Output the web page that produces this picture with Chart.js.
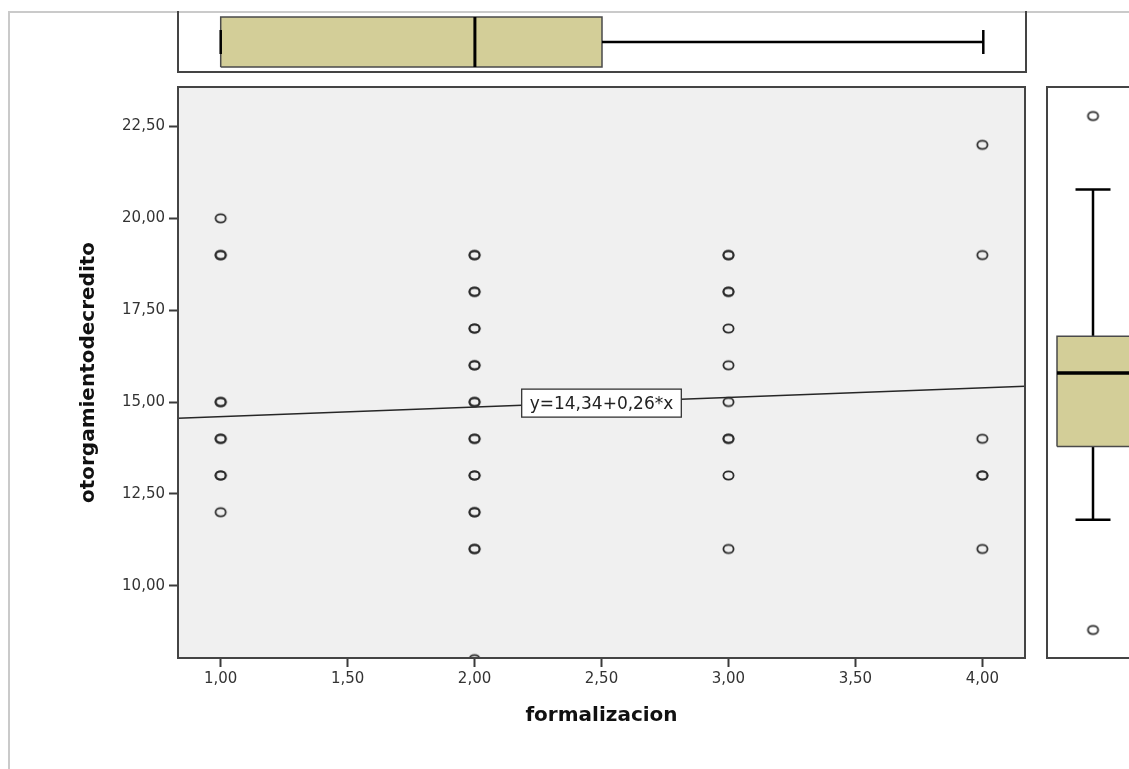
<!DOCTYPE html>
<html>
<head>
<meta charset="utf-8">
<script src="https://cdn.jsdelivr.net/npm/chart.js@4.4.1/dist/chart.umd.min.js"></script>
<style>
  html, body { margin: 0; padding: 0; background: #fff; }
  body { width: 1129px; height: 769px; position: relative; overflow: hidden; }
  #frame { position: absolute; left: 8px; top: 11px; right: -5px; bottom: -5px;
           border-left: 2px solid #cacaca; border-top: 2px solid #cacaca; }
  canvas { position: absolute; }
</style>
</head>
<body>
<div id="frame"></div>
<canvas id="main" width="1129" height="769" style="left:0;top:0"></canvas>
<canvas id="topBox" width="1129" height="80" style="left:0;top:0"></canvas>
<canvas id="sideBox" width="1129" height="589" style="left:0;top:80px"></canvas>
<script>
// formalizacion levels and the otorgamientodecredito values seen at each level
const levels  = [1, 2, 3, 4];
const credit1 = [20, 19, 19, 15, 15, 14, 14, 13, 13, 12];
const credit2 = [19, 19, 18, 18, 17, 17, 16, 16, 15, 15, 14, 14, 13, 13, 12, 12, 11, 11, 8];
const credit3 = [19, 19, 18, 18, 17, 16, 15, 14, 14, 13, 11];
const credit4 = [22, 19, 14, 13, 13, 11];

const xTicks = [1, 1.5, 2, 2.5, 3, 3.5, 4];
const yTicks = [10, 12.5, 15, 17.5, 20, 22.5];

// fit line ends and its tag
const fitX = [0.832, 4.168];
const fitY = [14.56, 15.43];
const fitLabel = 'y=14,34+0,26*x';
const fitLabelAt = [2.5, 14.97];

// marginal boxplots: [low whisker, q1, median, q3, high whisker]
const boxX = [1, 1, 2, 2.5, 4];
const boxY = [11, 13, 15, 16, 20];
const outliersY = [22, 8];

const FONT = 'DejaVu Sans';
const fmt = v => Number(v).toFixed(2).replace('.', ',');

/* open ellipse marker like SPSS */
const mark = document.createElement('canvas');
mark.width = 15; mark.height = 13;
{
  const m = mark.getContext('2d');
  m.strokeStyle = '#2c2c2c'; m.lineWidth = 1.8;
  m.beginPath(); m.ellipse(7.5, 6.5, 5.1, 4.2, 0, 0, Math.PI * 2); m.stroke();
}

/* panel background + border (sides: l t r b) */
const frame = {
  id: 'frame',
  beforeDatasetsDraw(chart, args, opts) {
    if (!opts.fill) return;
    const {ctx, chartArea: a} = chart;
    ctx.save(); ctx.fillStyle = opts.fill;
    ctx.fillRect(a.left, a.top, a.width, a.height); ctx.restore();
  },
  afterDatasetsDraw(chart, args, opts) {
    const {ctx, chartArea: a} = chart;
    const s = opts.sides || 'ltrb';
    ctx.save(); ctx.strokeStyle = '#444'; ctx.lineWidth = 2; ctx.lineCap = 'square';
    ctx.beginPath();
    if (s.includes('l')) { ctx.moveTo(a.left, a.top); ctx.lineTo(a.left, a.bottom); }
    if (s.includes('t')) { ctx.moveTo(a.left, a.top); ctx.lineTo(a.right, a.top); }
    if (s.includes('r')) { ctx.moveTo(a.right, a.top); ctx.lineTo(a.right, a.bottom); }
    if (s.includes('b')) { ctx.moveTo(a.left, a.bottom); ctx.lineTo(a.right, a.bottom); }
    ctx.stroke(); ctx.restore();
  }
};

/* boxed equation on the fit line */
const fitTag = {
  id: 'fitTag',
  afterDatasetsDraw(chart) {
    const {ctx, scales: {x, y}} = chart;
    const px = x.getPixelForValue(fitLabelAt[0]), py = y.getPixelForValue(fitLabelAt[1]);
    ctx.save();
    ctx.font = `17px "${FONT}"`;
    const w = ctx.measureText(fitLabel).width + 16, h = 28;
    ctx.fillStyle = '#fff'; ctx.fillRect(px - w / 2, py - h / 2, w, h);
    ctx.strokeStyle = '#333'; ctx.lineWidth = 1.3; ctx.strokeRect(px - w / 2, py - h / 2, w, h);
    ctx.fillStyle = '#222'; ctx.textAlign = 'center'; ctx.textBaseline = 'middle';
    ctx.fillText(fitLabel, px, py + 1);
    ctx.restore();
  }
};

const common = {
  responsive: false, animation: false, events: [],
  plugins: { legend: { display: false }, tooltip: { enabled: false } }
};
// exact chart areas: no extra room for point overflow
const layoutPad = p => ({ autoPadding: false, padding: p });
// a line piece; lower "order" is painted on top
const seg = (pts, w, color, order = 0) => ({ data: pts, showLine: true, borderColor: color || '#000',
  borderWidth: w, pointRadius: 0, fill: false, order });

// ------- main scatter -------
const points = [credit1, credit2, credit3, credit4]
  .flatMap((arr, i) => arr.map(v => ({ x: levels[i], y: v })));
const fitPts = fitX.map((x, i) => ({ x, y: fitY[i] }));

const tickFont = { family: FONT, size: 15 };
const titleFont = { family: FONT, size: 20, weight: 'bold' };
const grid = { drawOnChartArea: false, tickLength: 9, tickWidth: 2, tickColor: '#3a3a3a' };

new Chart(document.getElementById('main'), {
  type: 'scatter',
  data: { datasets: [
    { ...seg(fitPts, 1.5, '#262626', 1), clip: 0 },
    { data: points, pointStyle: mark, clip: 0, order: 0 }
  ]},
  options: {
    ...common,
    layout: layoutPad({ left: 0, top: 87, right: 104, bottom: 0 }),
    plugins: { ...common.plugins, frame: { fill: '#f0f0f0', sides: 'ltrb' } },
    scales: {
      x: {
        min: 0.832, max: 4.168,
        afterBuildTicks: s => { s.ticks = xTicks.map(v => ({ value: v })); },
        afterFit: s => { s.height = 111; },
        ticks: { callback: fmt, color: '#333', font: tickFont, padding: 3, maxRotation: 0, autoSkip: false },
        grid, border: { display: false },
        title: { display: true, text: 'formalizacion', color: '#111', font: titleFont, padding: { top: 0, bottom: 41 } }
      },
      y: {
        min: 8.032, max: 23.575,
        afterBuildTicks: s => { s.ticks = yTicks.map(v => ({ value: v })); },
        afterFit: s => { s.width = 178; },
        ticks: { callback: fmt, color: '#333', font: tickFont, padding: 4, autoSkip: false },
        grid, border: { display: false },
        title: { display: true, text: 'otorgamientodecredito', color: '#111', font: titleFont, padding: { top: 77, bottom: 0 } }
      }
    }
  },
  plugins: [frame, fitTag]
});

// ------- top boxplot (formalizacion) -------
const bh = 0.833, cap = 0.4;
const [xlo, xq1, xmed, xq3, xhi] = boxX;
new Chart(document.getElementById('topBox'), {
  type: 'scatter',
  data: { datasets: [
    seg([{x: xq3, y: 0}, {x: xhi, y: 0}], 2.5),
    seg([{x: xlo, y: 0}, {x: xq1, y: 0}], 2.5),
    seg([{x: xhi, y: -cap}, {x: xhi, y: cap}], 2.5),
    seg([{x: xlo, y: -cap}, {x: xlo, y: cap}], 2.5),
    { ...seg([{x: xq1, y: -bh}, {x: xq3, y: -bh}, {x: xq3, y: bh}, {x: xq1, y: bh}, {x: xq1, y: -bh}], 1.5, '#4a4a4a', 2),
      fill: 'shape', backgroundColor: '#d3ce98' },
    seg([{x: xmed, y: -bh}, {x: xmed, y: bh}], 3, '#000', 0)
  ]},
  options: {
    ...common,
    layout: layoutPad({ left: 178, top: 12, right: 103, bottom: 8 }),
    plugins: { ...common.plugins, frame: { sides: 'lrb' } },
    scales: {
      x: { display: false, min: 0.832, max: 4.168 },
      y: { display: false, min: -1, max: 1 }
    }
  },
  plugins: [frame]
});

// ------- side boxplot (otorgamientodecredito) -------
// the box runs past the window edge, so it is cut like in the source
const sw = 1, sRight = 1.45, scap = 0.486;
const [ylo, yq1, ymed, yq3, yhi] = boxY;
new Chart(document.getElementById('sideBox'), {
  type: 'scatter',
  data: { datasets: [
    seg([{x: 0, y: yq3}, {x: 0, y: yhi}], 2.5, '#000', 3),
    seg([{x: 0, y: ylo}, {x: 0, y: yq1}], 2.5, '#000', 3),
    seg([{x: -scap, y: yhi}, {x: scap, y: yhi}], 2.5),
    seg([{x: -scap, y: ylo}, {x: scap, y: ylo}], 2.5),
    { ...seg([{x: -sw, y: yq1}, {x: sRight, y: yq1}, {x: sRight, y: yq3}, {x: -sw, y: yq3}, {x: -sw, y: yq1}], 1.5, '#4a4a4a', 2),
      fill: 'shape', backgroundColor: '#d3ce98' },
    seg([{x: -sw, y: ymed}, {x: sRight, y: ymed}], 3.5, '#000', 0),
    { data: outliersY.map(v => ({ x: 0, y: v })), pointStyle: mark, order: 0 }
  ]},
  options: {
    ...common,
    layout: layoutPad({ left: 1047, top: 7, right: 0, bottom: 11 }),
    plugins: { ...common.plugins, frame: { sides: 'ltb' } },
    scales: {
      x: { display: false, min: -1.278, max: 1.0 },
      y: { display: false, min: 7.237, max: 22.79 }
    }
  },
  plugins: [frame]
});
</script>
</body>
</html>
